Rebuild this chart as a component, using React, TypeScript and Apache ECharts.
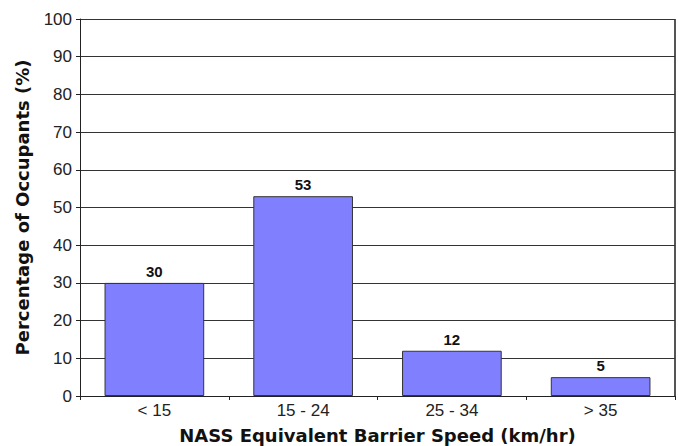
import React, { useEffect, useRef } from "react";
import * as echarts from "echarts";

const categories = ["< 15", "15 - 24", "25 - 34", "> 35"];
const percentages = [30, 53, 12, 5];

export default function App() {
  const ref = useRef<HTMLDivElement>(null);
  useEffect(() => {
    const chart = echarts.init(ref.current!, null, { renderer: "svg" });
    chart.setOption({
      animation: false,
      backgroundColor: "#ffffff",
      textStyle: { fontFamily: "Liberation Sans, Arial, sans-serif" },
      grid: { left: 80, top: 19, right: 3, bottom: 50, containLabel: false, outerBoundsMode: "none" },
      xAxis: {
        type: "category",
        data: categories,
        name: "NASS Equivalent Barrier Speed (km/hr)",
        nameLocation: "middle",
        nameGap: 30,
        nameTextStyle: { fontSize: 18, fontWeight: "bold", color: "#111", fontFamily: "DejaVu Sans" },
        axisLine: { lineStyle: { color: "#222", width: 1 } },
        axisTick: { show: true, length: 4, alignWithLabel: false, lineStyle: { color: "#222" } },
        axisLabel: { fontSize: 17, color: "#222", margin: 6 },
      },
      yAxis: {
        type: "value",
        min: 0,
        max: 100,
        interval: 10,
        name: "Percentage of Occupants (%)",
        nameLocation: "middle",
        nameGap: 49,
        nameTextStyle: { fontSize: 18, fontWeight: "bold", color: "#111", fontFamily: "DejaVu Sans" },
        axisLine: { show: true, lineStyle: { color: "#222", width: 1 } },
        axisTick: { show: true, length: 4, lineStyle: { color: "#222" } },
        axisLabel: { fontSize: 17, color: "#222", margin: 8 },
        splitLine: { show: true, lineStyle: { color: "#333", width: 1 } },
      },
      graphic: [
        {
          type: "line",
          shape: { x1: 675, y1: 19, x2: 675, y2: 396 },
          style: { stroke: "#555", lineWidth: 2 },
        },
      ],
      series: [
        {
          type: "bar",
          data: percentages,
          barWidth: "67%",
          itemStyle: { color: "#8080ff", borderColor: "#333", borderWidth: 1 },
          label: {
            show: true,
            position: "top",
            fontSize: 15,
            fontWeight: "bold",
            color: "#111",
            distance: 4,
          },
        },
      ],
    });
    return () => chart.dispose();
  }, []);
  return <div ref={ref} style={{ width: 678, height: 446, position: "absolute", left: 0, top: 0 }} />;
}
